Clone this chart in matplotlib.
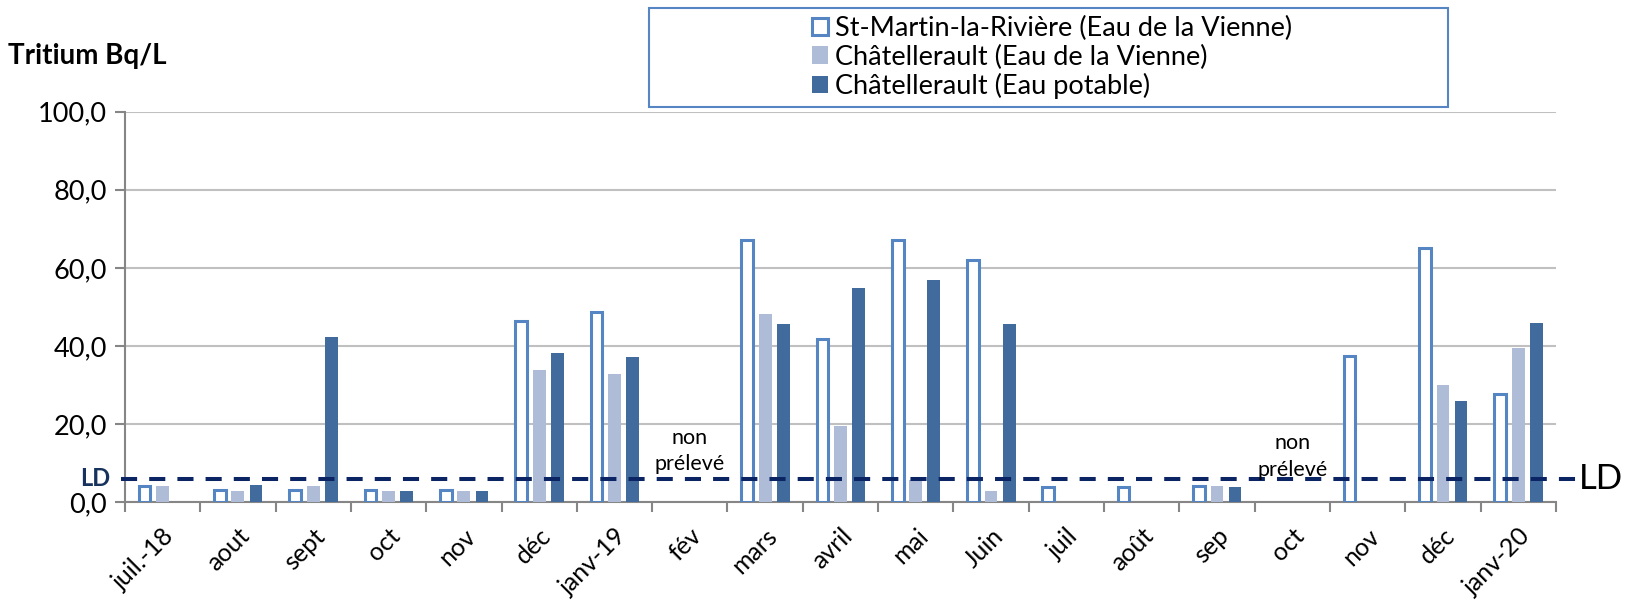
import numpy as np
import matplotlib
matplotlib.use('Agg')
from matplotlib import pyplot as plt
from matplotlib.patches import Rectangle
from matplotlib.ticker import FuncFormatter

plt.rcParams['font.family'] = ['Lato', 'DejaVu Sans']

nan = np.nan

# Months (juillet 2018 -> janvier 2020)
months = ['juil.-18', 'aout', 'sept', 'oct', 'nov', 'déc', 'janv-19', 'fév',
          'mars', 'avril', 'mai', 'Juin', 'juil', 'août', 'sep', 'oct', 'nov',
          'déc', 'janv-20']

# Tritium (Bq/L)
st_martin = [4.0, 3.0, 3.0, 3.0, 3.0, 46.4, 48.6, nan, 67.0, 41.8, 67.0,
             61.9, 3.8, 3.8, 4.0, nan, 37.5, 65.1, 27.7]
chat_vienne = [4.1, 2.9, 4.1, 2.9, 2.9, 33.8, 32.7, nan, 48.1, 19.6, 5.6,
               2.8, nan, nan, 4.0, nan, nan, 30.1, 39.5]
chat_potable = [nan, 4.4, 42.3, 2.9, 2.9, 38.1, 37.2, nan, 45.7, 54.9, 56.9,
                45.7, nan, nan, 3.9, nan, nan, 25.9, 45.9]

series_names = ['St-Martin-la-Rivière (Eau de la Vienne)',
                'Châtellerault (Eau de la Vienne)',
                'Châtellerault (Eau potable)']

LD = 6.0
not_sampled_idx = [7, 15]   # fév, oct
not_sampled_y = [13.1, 11.7]

blue_edge = '#5585C2'
light_blue = '#AEBCD8'
dark_blue = '#416B9D'
navy = '#0B2463'

fig = plt.figure(figsize=(16.33, 6.06), dpi=100)
ax = fig.add_axes([0.0765, 0.1716, 0.8763, 0.6441])

x = np.arange(len(months)) + 0.5
ax.bar(x - 0.24, st_martin, 0.155, facecolor='white', edgecolor=blue_edge,
       linewidth=2.2, label=series_names[0], zorder=3)
ax.bar(x, chat_vienne, 0.17, color=light_blue, label=series_names[1], zorder=3)
ax.bar(x + 0.24, chat_potable, 0.17, color=dark_blue, label=series_names[2],
       zorder=3)

# detection limit
ax.axhline(LD, xmin=-0.003, xmax=1.022, color=navy, lw=2.9,
           dashes=(4, 3), clip_on=False, zorder=4)
ax.text(-0.01, LD, 'LD', transform=ax.get_yaxis_transform(), ha='right',
        va='center', fontsize=17, fontweight='bold', color='#17325C')
ax.text(1.016, LD, 'LD', transform=ax.get_yaxis_transform(), ha='left',
        va='center', fontsize=25, color='black')

for i, yy in zip(not_sampled_idx, not_sampled_y):
    ax.text(x[i], yy, 'non\nprélevé', ha='center', va='center', fontsize=15.5,
            linespacing=1.4, zorder=5)

ax.set_xlim(0, len(months))
ax.set_ylim(0, 100)
ax.set_yticks(np.arange(0, 101, 20))
ax.yaxis.set_major_formatter(FuncFormatter(lambda v, p: f'{v:.1f}'.replace('.', ',')))
ax.set_xticks(x)
ax.set_xticklabels(months, rotation=45, ha='right', va='top',
                   rotation_mode='anchor')
ax.set_xticks(np.arange(len(months) + 1), minor=True)
ax.tick_params(axis='x', which='major', length=0, pad=16, labelsize=18)
ax.tick_params(axis='x', which='minor', length=7, width=1.5, color='#868686')
ax.tick_params(axis='y', length=7, width=1.5, color='#868686', labelsize=19.5,
               pad=6)
ax.grid(axis='y', color='#C0C0C0', lw=1.5, zorder=0)
ax.set_axisbelow(True)
for s in ['top', 'right']:
    ax.spines[s].set_visible(False)
for s in ['left', 'bottom']:
    ax.spines[s].set_color('#868686')
    ax.spines[s].set_linewidth(1.5)

fig.text(0.005, 0.908, 'Tritium Bq/L', fontsize=20, fontweight='bold',
         ha='left', va='center')

# legend box
fig.patches.append(Rectangle((0.3975, 0.823), 0.489, 0.164,
                             transform=fig.transFigure, fill=False,
                             edgecolor=blue_edge, lw=1.5))
fig.legend(loc='center', bbox_to_anchor=(0.644, 0.905), frameon=False,
           fontsize=19.5, handlelength=0.6, handleheight=0.6,
           handletextpad=0.25, labelspacing=0.12, borderpad=0)

fig.savefig('out.png', dpi=100)
